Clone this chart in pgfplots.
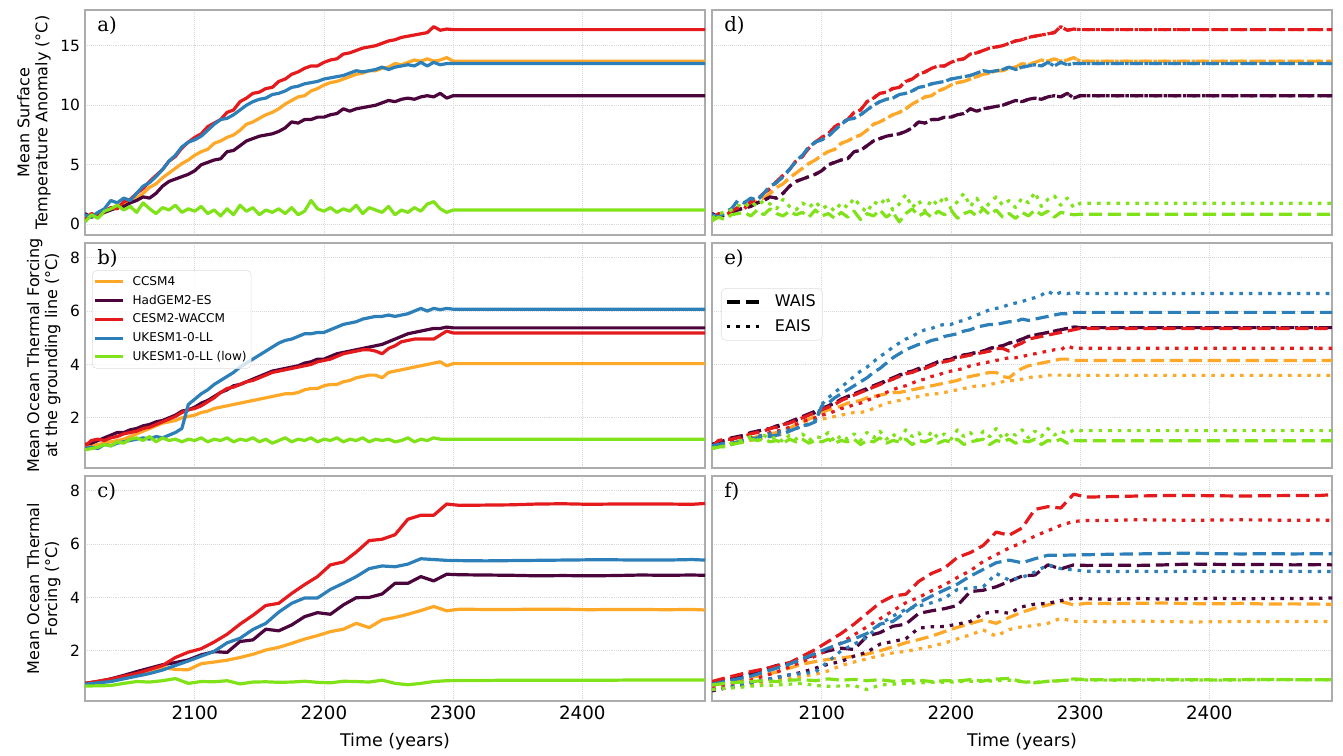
\documentclass[border=0pt]{standalone}
\usepackage{fontspec}
\setmainfont{DejaVu Sans}
\newfontfamily\panelfont{DejaVu Serif}
\usepackage{pgfplots}
\usepackage{pgfplotstable}
\pgfplotsset{compat=1.18}
\usepgfplotslibrary{groupplots}

\definecolor{ccsm}{RGB}{255,167,38}
\definecolor{had}{RGB}{75,5,60}
\definecolor{cesm}{RGB}{228,26,28}
\definecolor{ukesm}{RGB}{44,127,184}
\definecolor{low}{RGB}{128,226,24}

\tikzset{
  wdash/.style={dash pattern=on 3.3mm off 1.45mm},
  edot/.style={dash pattern=on 0.9mm off 1.5mm},
  panel/.style={anchor=north west, inner sep=0pt, xshift=3mm, yshift=-1.6mm,
    font=\panelfont\fontsize{14}{14}\selectfont},
}

% surface temperature anomaly (a, d)
\pgfplotstableread{
year ccsm had cesm uk low lowW lowE
2015 0.3 0.9 0.4 0.8 0.2 0.3 0.5
2020 0.8 0.6 0.9 0.6 0.8 0.6 0.9
2025 0.6 0.8 0.7 1.0 0.5 0.4 1.0
2030 1.0 1.0 1.1 1.3 1.1 0.8 1.2
2035 1.3 1.2 1.4 2.0 1.3 0.9 1.6
2040 1.5 1.4 1.3 1.8 1.6 1.0 1.4
2045 1.7 1.5 1.9 2.2 1.2 0.7 1.9
2050 2.0 1.8 2.1 2.0 1.5 1.2 1.5
2055 2.2 2.0 2.6 2.6 1.0 0.8 2.0
2060 2.6 2.3 3.0 3.2 1.8 1.3 1.7
2065 3.1 2.2 3.6 3.5 1.3 0.9 1.3
2070 3.4 2.6 4.1 4.0 0.9 0.7 2.1
2075 3.9 3.2 4.6 4.6 1.4 1.1 1.5
2080 4.3 3.6 5.3 5.3 1.2 0.8 1.2
2085 4.7 3.8 5.7 5.8 1.6 1.0 1.8
2090 5.1 4.0 6.4 6.5 1.0 0.6 1.4
2095 5.4 4.2 6.9 6.9 1.3 1.2 1.9
2100 5.8 4.5 7.3 7.1 1.1 0.7 1.3
2105 6.1 5.0 7.6 7.4 1.5 0.9 1.6
2110 6.3 5.2 8.2 7.9 0.9 0.5 1.1
2115 6.8 5.4 8.5 8.4 1.2 1.0 1.8
2120 7.0 5.5 8.8 8.8 0.7 0.6 1.4
2125 7.3 6.1 9.4 8.9 1.3 1.1 2.2
2130 7.5 6.2 9.6 9.2 0.8 0.4 1.5
2135 7.9 6.6 10.3 9.6 1.6 0.9 1.0
2140 8.4 7.0 10.6 10.0 1.1 0.7 1.9
2145 8.6 7.2 11.0 10.3 1.4 1.2 1.6
2150 8.9 7.4 11.1 10.5 0.8 0.6 2.3
2155 9.2 7.5 11.4 10.6 1.2 1.0 1.2
2160 9.4 7.6 11.5 10.9 1.0 0.2 1.7
2165 9.7 7.8 12.0 11.0 1.3 0.9 2.5
2170 10.1 8.1 12.2 11.2 0.9 1.3 1.4
2175 10.4 8.6 12.6 11.5 1.4 0.7 2.0
2180 10.7 8.5 12.8 11.6 0.8 1.0 1.1
2185 10.8 8.8 13.1 11.8 1.1 0.6 2.1
2190 11.2 8.8 13.3 11.9 2.0 1.1 1.6
2195 11.4 9.0 13.3 12.0 1.3 0.8 2.4
2200 11.7 9.0 13.6 12.2 1.1 1.2 1.3
2205 11.9 9.2 13.8 12.3 1.4 0.5 1.9
2210 12.0 9.3 13.9 12.4 1.0 0.9 2.6
2215 12.2 9.7 14.3 12.5 1.3 1.1 1.5
2220 12.4 9.5 14.4 12.7 1.1 0.7 2.2
2225 12.6 9.7 14.6 12.9 1.6 1.3 1.2
2230 12.7 9.8 14.8 12.8 0.9 0.8 1.8
2235 12.9 9.9 14.9 12.9 1.4 1.2 2.3
2240 12.9 10.0 15.0 13.0 1.2 0.6 1.6
2245 13.1 10.2 15.2 13.2 1.0 0.9 2.0
2250 13.2 10.4 15.4 13.0 1.5 0.5 1.4
2255 13.5 10.3 15.5 13.2 0.8 1.0 2.2
2260 13.4 10.5 15.7 13.3 1.2 0.7 1.8
2265 13.6 10.6 15.8 13.4 1.0 1.2 2.7
2270 13.8 10.5 15.9 13.3 1.4 0.8 1.5
2275 13.7 10.7 16.0 13.6 1.1 1.1 2.1
2280 13.9 10.8 16.1 13.3 1.7 0.6 2.4
2285 13.7 10.7 16.6 13.6 1.9 1.0 1.6
2290 13.8 11.0 16.3 13.4 1.3 0.9 2.2
2295 14.0 10.6 16.4 13.5 1.0 0.8 1.4
2300 13.7 10.8 16.35 13.5 1.2 0.84 1.77
2495 13.7 10.8 16.35 13.5 1.2 0.84 1.77
}\tabA

% thermal forcing at the grounding line (b)
\pgfplotstableread{
year ccsm had cesm uk low
2015 0.90 1.00 0.95 0.85 0.80
2020 0.95 1.05 1.15 0.90 0.85
2025 1.00 1.15 1.20 0.85 0.90
2030 1.05 1.25 1.15 1.00 1.00
2035 1.10 1.35 1.25 0.95 0.95
2040 1.15 1.45 1.30 1.05 1.10
2045 1.20 1.45 1.40 1.10 1.05
2050 1.30 1.55 1.45 1.15 1.20
2055 1.40 1.60 1.50 1.20 1.25
2060 1.50 1.70 1.60 1.25 1.15
2065 1.60 1.75 1.65 1.20 1.30
2070 1.70 1.85 1.75 1.30 1.10
2075 1.80 1.90 1.85 1.25 1.25
2080 1.85 2.00 1.95 1.35 1.15
2085 1.90 2.10 2.05 1.45 1.20
2090 2.00 2.25 2.20 1.60 1.10
2095 2.05 2.30 2.30 2.50 1.20
2100 2.10 2.40 2.35 2.70 1.15
2105 2.20 2.55 2.45 2.90 1.25
2110 2.25 2.65 2.60 3.05 1.10
2115 2.35 2.80 2.75 3.25 1.20
2120 2.40 2.95 2.95 3.40 1.15
2125 2.45 3.05 3.10 3.55 1.25
2130 2.50 3.20 3.15 3.70 1.10
2135 2.55 3.25 3.25 3.90 1.20
2140 2.60 3.35 3.35 4.05 1.15
2145 2.65 3.45 3.40 4.20 1.25
2150 2.70 3.55 3.50 4.35 1.10
2155 2.75 3.65 3.60 4.50 1.20
2160 2.80 3.75 3.70 4.65 1.05
2165 2.85 3.80 3.75 4.80 1.15
2170 2.90 3.85 3.80 4.90 1.25
2175 2.90 3.90 3.85 4.95 1.10
2180 2.95 3.95 3.90 5.05 1.20
2185 3.05 4.05 3.95 5.15 1.15
2190 3.10 4.10 4.00 5.15 1.25
2195 3.10 4.20 4.10 5.20 1.10
2200 3.20 4.20 4.15 5.20 1.20
2205 3.25 4.30 4.20 5.30 1.15
2210 3.25 4.40 4.30 5.40 1.25
2215 3.35 4.45 4.40 5.50 1.10
2220 3.40 4.50 4.45 5.55 1.20
2225 3.50 4.55 4.50 5.60 1.15
2230 3.55 4.60 4.55 5.70 1.25
2235 3.60 4.65 4.55 5.75 1.10
2240 3.60 4.70 4.50 5.80 1.20
2245 3.50 4.75 4.40 5.80 1.15
2250 3.70 4.85 4.60 5.85 1.20
2255 3.75 4.95 4.70 5.80 1.10
2260 3.80 5.05 4.85 5.85 1.15
2265 3.85 5.15 4.90 5.90 1.25
2270 3.90 5.20 4.95 6.00 1.10
2275 3.95 5.25 4.95 6.10 1.20
2280 4.00 5.30 4.95 6.00 1.15
2285 4.05 5.35 4.95 6.10 1.25
2290 4.10 5.35 5.10 6.05 1.20
2295 3.95 5.40 5.25 6.10 1.20
2300 4.03 5.37 5.18 6.07 1.20
2495 4.03 5.37 5.18 6.07 1.20
}\tabB

% thermal forcing at the grounding line, WAIS / EAIS (e)
\pgfplotstableread{
year ccsmW ccsmE hadW hadE cesmW cesmE ukW ukE lowW lowE
2015 0.90 0.85 1.00 0.95 0.90 0.90 0.95 0.90 0.85 0.85
2020 0.95 0.90 1.10 1.05 1.15 1.00 1.00 0.95 0.90 0.95
2025 1.00 0.95 1.15 1.10 1.20 1.05 1.05 1.00 0.95 0.90
2030 1.05 1.00 1.25 1.20 1.20 1.10 1.00 1.05 1.00 1.05
2035 1.10 1.05 1.30 1.25 1.25 1.15 1.10 1.10 1.05 1.10
2040 1.15 1.10 1.35 1.35 1.30 1.20 1.15 1.15 1.10 1.20
2045 1.20 1.15 1.45 1.40 1.40 1.25 1.20 1.20 1.20 1.30
2050 1.30 1.20 1.50 1.50 1.45 1.30 1.25 1.30 1.15 1.15
2055 1.35 1.25 1.55 1.55 1.50 1.35 1.30 1.35 1.20 1.35
2060 1.40 1.30 1.60 1.60 1.60 1.45 1.30 1.40 1.10 1.20
2065 1.45 1.35 1.70 1.65 1.65 1.50 1.35 1.45 1.15 1.30
2070 1.50 1.40 1.75 1.75 1.75 1.55 1.40 1.50 1.05 1.10
2075 1.60 1.50 1.85 1.80 1.80 1.65 1.50 1.55 1.20 1.35
2080 1.75 1.60 1.95 1.90 1.90 1.75 1.60 1.60 1.10 1.20
2085 1.85 1.70 2.05 2.00 2.00 1.85 1.70 1.70 1.20 1.40
2090 1.95 1.80 2.15 2.10 2.10 1.95 1.75 1.75 1.05 1.15
2095 2.05 1.90 2.25 2.20 2.20 2.00 1.85 1.90 1.15 1.30
2100 2.20 1.95 2.35 2.35 2.30 2.10 2.45 2.50 1.10 1.25
2105 2.30 2.00 2.45 2.45 2.40 2.15 2.55 2.75 1.20 1.45
2110 2.35 2.05 2.55 2.55 2.50 2.25 2.75 2.95 1.05 1.10
2115 2.45 2.10 2.70 2.65 2.65 2.35 2.90 3.15 1.15 1.35
2120 2.55 2.15 2.80 2.80 2.75 2.40 3.05 3.35 1.10 1.20
2125 2.60 2.20 2.90 2.85 2.85 2.50 3.20 3.55 1.20 1.40
2130 2.65 2.20 3.00 3.00 2.95 2.55 3.35 3.75 1.00 1.15
2135 2.75 2.25 3.10 3.05 3.05 2.65 3.50 3.90 1.15 1.45
2140 2.80 2.35 3.20 3.20 3.15 2.75 3.70 4.10 1.10 1.25
2145 2.85 2.45 3.30 3.25 3.25 2.85 3.85 4.30 1.25 1.50
2150 2.90 2.55 3.40 3.40 3.35 2.95 4.05 4.45 1.05 1.20
2155 2.95 2.60 3.50 3.45 3.45 3.05 4.25 4.65 1.15 1.40
2160 2.95 2.65 3.60 3.60 3.55 3.15 4.40 4.80 1.10 1.15
2165 3.00 2.70 3.70 3.65 3.65 3.20 4.55 4.95 1.20 1.55
2170 3.05 2.75 3.75 3.75 3.70 3.30 4.65 5.05 1.00 1.30
2175 3.10 2.80 3.85 3.80 3.80 3.40 4.75 5.20 1.15 1.45
2180 3.15 2.85 3.90 3.90 3.85 3.45 4.80 5.30 1.10 1.10
2185 3.20 2.90 4.00 3.95 3.95 3.55 4.90 5.35 1.20 1.50
2190 3.25 2.90 4.10 4.10 4.05 3.60 4.95 5.45 1.05 1.25
2195 3.30 2.95 4.15 4.15 4.10 3.70 5.05 5.50 1.15 1.40
2200 3.35 3.00 4.20 4.20 4.15 3.75 5.10 5.50 1.10 1.20
2205 3.40 3.05 4.30 4.30 4.25 3.80 5.15 5.60 1.20 1.55
2210 3.50 3.10 4.35 4.35 4.30 3.85 5.25 5.65 1.00 1.30
2215 3.55 3.15 4.40 4.40 4.35 3.95 5.30 5.75 1.10 1.45
2220 3.60 3.20 4.45 4.45 4.40 4.00 5.40 5.85 1.15 1.15
2225 3.65 3.20 4.50 4.50 4.45 4.05 5.45 5.95 1.20 1.50
2230 3.70 3.25 4.60 4.60 4.50 4.10 5.50 6.05 1.00 1.30
2235 3.70 3.30 4.65 4.65 4.60 4.15 5.50 6.10 1.15 1.60
2240 3.55 3.35 4.70 4.70 4.60 4.20 5.55 6.15 1.10 1.20
2245 3.50 3.40 4.80 4.80 4.50 4.25 5.60 6.25 1.20 1.45
2250 3.70 3.40 4.85 4.85 4.70 4.25 5.60 6.30 1.05 1.35
2255 3.85 3.45 4.95 4.95 4.80 4.30 5.70 6.35 1.15 1.55
2260 3.95 3.50 5.05 5.05 4.95 4.35 5.65 6.45 1.10 1.25
2265 4.00 3.55 5.10 5.10 5.00 4.40 5.70 6.50 1.20 1.50
2270 4.05 3.55 5.15 5.15 5.05 4.45 5.75 6.60 1.00 1.30
2275 4.10 3.60 5.20 5.20 5.10 4.50 5.80 6.75 1.15 1.60
2280 4.15 3.60 5.25 5.25 5.15 4.55 5.85 6.60 1.10 1.35
2285 4.20 3.60 5.30 5.30 5.20 4.55 5.90 6.70 1.20 1.50
2290 4.20 3.60 5.35 5.35 5.25 4.70 5.90 6.65 1.05 1.40
2295 4.15 3.59 5.40 5.40 5.30 4.60 5.95 6.70 1.15 1.55
2300 4.15 3.59 5.38 5.38 5.35 4.61 5.95 6.66 1.14 1.52
2495 4.15 3.59 5.38 5.38 5.35 4.61 5.95 6.66 1.14 1.52
}\tabE

% mean ocean thermal forcing (c)
\pgfplotstableread{
year ccsm had cesm uk low
2015 0.75 0.78 0.78 0.75 0.68
2025 0.82 0.85 0.86 0.80 0.69
2035 0.92 0.95 0.94 0.85 0.70
2045 1.05 1.08 1.05 0.95 0.78
2055 1.15 1.22 1.15 1.05 0.85
2065 1.25 1.35 1.30 1.15 0.83
2075 1.38 1.48 1.45 1.28 0.88
2085 1.30 1.56 1.75 1.45 0.96
2095 1.29 1.66 1.95 1.62 0.78
2105 1.52 1.85 2.08 1.80 0.85
2115 1.58 1.97 2.33 1.98 0.84
2125 1.65 1.94 2.62 2.30 0.88
2135 1.75 2.35 3.00 2.47 0.76
2145 1.87 2.41 3.33 2.80 0.83
2155 2.03 2.81 3.70 3.03 0.84
2165 2.13 2.75 3.78 3.45 0.82
2175 2.28 2.97 4.15 3.78 0.83
2185 2.44 3.28 4.48 3.98 0.86
2195 2.57 3.43 4.78 3.98 0.82
2205 2.72 3.37 5.22 4.30 0.80
2215 2.81 3.72 5.33 4.53 0.86
2225 3.03 3.99 5.70 4.78 0.85
2235 2.87 4.00 6.13 5.08 0.83
2245 3.16 4.13 6.18 5.18 0.90
2255 3.25 4.53 6.35 5.15 0.78
2265 3.37 4.53 6.93 5.25 0.73
2275 3.51 4.78 7.08 5.45 0.78
2285 3.66 4.62 7.08 5.42 0.85
2295 3.50 4.87 7.50 5.39 0.88
2305 3.56 4.85 7.45 5.38 0.89
2325 3.55 4.84 7.46 5.37 0.89
2345 3.55 4.83 7.47 5.38 0.90
2365 3.56 4.81 7.50 5.39 0.90
2385 3.56 4.82 7.51 5.40 0.90
2405 3.54 4.81 7.49 5.41 0.90
2425 3.55 4.82 7.50 5.41 0.90
2445 3.55 4.84 7.50 5.40 0.91
2465 3.54 4.83 7.50 5.40 0.91
2485 3.55 4.84 7.49 5.42 0.91
2495 3.53 4.83 7.52 5.40 0.91
}\tabC

% mean ocean thermal forcing, WAIS / EAIS (f)
\pgfplotstableread{
year ccsmW ccsmE hadW hadE cesmW cesmE ukW ukE lowW lowE
2015 0.70 0.55 0.75 0.50 0.85 0.60 0.75 0.55 0.72 0.55
2025 0.80 0.60 0.90 0.60 0.98 0.70 0.85 0.60 0.78 0.60
2035 0.90 0.65 1.00 0.70 1.10 0.80 0.95 0.70 0.82 0.62
2045 1.00 0.75 1.15 0.80 1.22 0.90 1.05 0.80 0.85 0.68
2055 1.10 0.80 1.30 0.90 1.32 1.05 1.20 0.90 0.88 0.70
2065 1.20 0.90 1.45 1.00 1.43 1.20 1.35 1.00 0.85 0.72
2075 1.35 0.95 1.55 1.10 1.55 1.40 1.50 1.10 0.90 0.75
2085 1.50 1.05 1.70 1.20 1.80 1.60 1.70 1.15 0.92 0.78
2095 1.60 1.12 1.85 1.35 2.05 1.80 1.90 1.20 0.88 0.70
2105 1.68 1.25 2.00 1.50 2.35 2.05 2.10 1.60 0.95 0.67
2115 1.73 1.45 2.10 1.60 2.65 2.30 2.28 2.00 0.90 0.68
2125 1.80 1.58 2.05 1.80 3.00 2.60 2.45 2.25 0.93 0.70
2135 1.88 1.70 2.55 1.95 3.40 2.90 2.65 2.50 0.88 0.55
2145 2.00 1.82 2.68 2.25 3.80 3.20 3.00 3.00 0.92 0.72
2155 2.15 1.92 2.92 2.35 4.05 3.50 3.10 3.30 0.86 0.75
2165 2.30 1.98 3.00 2.45 4.12 3.80 3.45 3.55 0.88 0.78
2175 2.42 2.07 3.40 2.85 4.60 4.00 3.80 3.68 0.90 0.80
2185 2.55 2.17 3.50 2.90 4.90 4.25 4.05 3.80 0.85 0.82
2195 2.72 2.29 3.58 2.91 5.10 4.47 4.28 3.97 0.88 0.82
2205 2.88 2.45 3.70 3.00 5.50 4.75 4.50 4.30 0.87 0.84
2215 3.02 2.60 4.22 3.10 5.68 5.00 4.80 4.35 0.92 0.86
2225 3.16 2.78 4.27 3.40 5.95 5.35 5.05 4.40 0.87 0.86
2235 3.03 2.55 4.40 3.47 6.45 5.60 5.30 4.90 0.94 0.88
2245 3.25 2.80 4.60 3.41 6.33 5.85 5.40 4.65 0.97 0.90
2255 3.45 2.90 4.80 3.65 6.60 6.05 5.30 4.75 0.84 0.85
2265 3.60 2.95 4.84 3.75 7.30 6.30 5.45 4.95 0.80 0.82
2275 3.72 3.03 5.22 3.78 7.40 6.50 5.58 5.22 0.86 0.86
2285 3.85 3.22 5.07 3.88 7.35 6.70 5.58 5.08 0.88 0.88
2295 3.72 3.10 5.22 3.97 7.87 6.85 5.59 5.03 0.95 0.92
2305 3.78 3.10 5.20 3.95 7.76 6.88 5.60 4.98 0.92 0.91
2325 3.77 3.09 5.21 3.93 7.78 6.89 5.62 4.97 0.91 0.90
2345 3.78 3.11 5.20 3.96 7.80 6.91 5.63 4.98 0.92 0.91
2365 3.79 3.10 5.22 3.94 7.82 6.90 5.65 4.97 0.93 0.91
2385 3.77 3.08 5.25 3.95 7.82 6.89 5.66 4.98 0.92 0.91
2405 3.76 3.09 5.24 3.97 7.81 6.90 5.64 4.98 0.91 0.90
2425 3.78 3.10 5.23 3.95 7.80 6.91 5.63 4.97 0.92 0.91
2445 3.75 3.09 5.24 3.96 7.81 6.90 5.64 4.97 0.93 0.92
2465 3.76 3.10 5.22 3.96 7.82 6.89 5.63 4.98 0.92 0.92
2485 3.75 3.10 5.23 3.97 7.82 6.90 5.64 4.97 0.92 0.92
2495 3.74 3.10 5.22 3.98 7.85 6.89 5.64 4.97 0.92 0.92
}\tabF

\begin{document}
\begin{tikzpicture}
\begin{groupplot}[
    group style={group name=G, group size=2 by 3,
      horizontal sep=1.75mm, vertical sep=2mm,
      xticklabels at=edge bottom, yticklabels at=edge left},
    scale only axis, width=155mm, height=56.25mm,
    xmin=2015, xmax=2495,
    xtick={2100,2200,2300,2400},
    grid=major,
    grid style={gray!30, densely dotted, line width=0.5pt},
    axis line style={gray!65, line width=0.35mm},
    major tick length=0pt,
    /pgf/number format/assume math mode=true,
    /pgf/number format/1000 sep={},
    xticklabel style={font=\fontsize{13}{13}\selectfont},
    yticklabel style={font=\fontsize{11}{11}\selectfont},
    ylabel style={align=center, font=\fontsize{11.4}{12.8}\selectfont},
    xlabel style={font=\fontsize{12.4}{14}\selectfont, yshift=-1mm},
    every axis plot/.append style={line width=0.8mm, line join=round},
    no markers,
  ]

% a)
\nextgroupplot[ymin=-0.9, ymax=18, ytick={0,5,10,15},
  ylabel={Mean Surface\\Temperature Anomaly (°C)}]
\addplot[ccsm] table[x=year, y=ccsm]{\tabA};
\addplot[had] table[x=year, y=had]{\tabA};
\addplot[cesm] table[x=year, y=cesm]{\tabA};
\addplot[ukesm] table[x=year, y=uk]{\tabA};
\addplot[low] table[x=year, y=low]{\tabA};
\node[panel] at (rel axis cs:0,1) {a)};

% d)
\nextgroupplot[ymin=-0.9, ymax=18, ytick={0,5,10,15}]
\addplot[ccsm, wdash] table[x=year, y=ccsm]{\tabA};
\addplot[ccsm, edot] table[x=year, y=ccsm]{\tabA};
\addplot[had, wdash] table[x=year, y=had]{\tabA};
\addplot[had, edot] table[x=year, y=had]{\tabA};
\addplot[cesm, wdash] table[x=year, y=cesm]{\tabA};
\addplot[cesm, edot] table[x=year, y=cesm]{\tabA};
\addplot[ukesm, wdash] table[x=year, y=uk]{\tabA};
\addplot[ukesm, edot] table[x=year, y=uk]{\tabA};
\addplot[low, wdash] table[x=year, y=lowW]{\tabA};
\addplot[low, edot] table[x=year, y=lowE]{\tabA};
\node[panel] at (rel axis cs:0,1) {d)};

% b)
\nextgroupplot[ymin=0.12, ymax=8.55, ytick={2,4,6,8},
  ylabel={Mean Ocean Thermal Forcing\\at the grounding line (°C)},
  legend style={at={(0.0113,0.88)}, anchor=north west,
    font=\fontsize{8.6}{10}\selectfont, draw=gray!25, rounded corners=1.2mm,
    fill=white, fill opacity=0.8, text opacity=1,
    inner xsep=0.4mm, inner ysep=0.8mm, row sep=0.5mm},
  legend cell align=left,
  legend image code/.code={\draw[#1, line width=0.75mm] (0mm,0mm) -- (7mm,0mm);
    \path (8.2mm,0mm);}]
\addplot[ccsm] table[x=year, y=ccsm]{\tabB};
\addplot[had] table[x=year, y=had]{\tabB};
\addplot[cesm] table[x=year, y=cesm]{\tabB};
\addplot[ukesm] table[x=year, y=uk]{\tabB};
\addplot[low] table[x=year, y=low]{\tabB};
\legend{CCSM4, HadGEM2-ES, CESM2-WACCM, UKESM1-0-LL, UKESM1-0-LL (low)}
\node[panel] at (rel axis cs:0,1) {b)};

% e)
\nextgroupplot[ymin=0.12, ymax=8.55, ytick={2,4,6,8},
  legend style={at={(0.0145,0.8)}, anchor=north west,
    font=\fontsize{11.4}{13}\selectfont, draw=gray!25, rounded corners=1.2mm,
    fill=white, fill opacity=0.8, text opacity=1,
    inner xsep=1mm, inner ysep=1mm, row sep=1.2mm},
  legend cell align=left,
  legend image code/.code={\draw[#1, line width=0.8mm] (0mm,0mm) -- (8mm,0mm);
    \path (10.9mm,0mm);}]
\addlegendimage{black, wdash}
\addlegendentry{WAIS}
\addlegendimage{black, edot}
\addlegendentry{EAIS}
\addplot[ccsm, wdash, forget plot] table[x=year, y=ccsmW]{\tabE};
\addplot[ccsm, edot, forget plot] table[x=year, y=ccsmE]{\tabE};
\addplot[had, wdash, forget plot] table[x=year, y=hadW]{\tabE};
\addplot[had, edot, forget plot] table[x=year, y=hadE]{\tabE};
\addplot[cesm, wdash, forget plot] table[x=year, y=cesmW]{\tabE};
\addplot[cesm, edot, forget plot] table[x=year, y=cesmE]{\tabE};
\addplot[ukesm, wdash, forget plot] table[x=year, y=ukW]{\tabE};
\addplot[ukesm, edot, forget plot] table[x=year, y=ukE]{\tabE};
\addplot[low, wdash, forget plot] table[x=year, y=lowW]{\tabE};
\addplot[low, edot, forget plot] table[x=year, y=lowE]{\tabE};
\node[panel] at (rel axis cs:0,1) {e)};

% c)
\nextgroupplot[ymin=0.12, ymax=8.55, ytick={2,4,6,8},
  ylabel={Mean Ocean Thermal\\Forcing (°C)}, xlabel={Time (years)}]
\addplot[ccsm] table[x=year, y=ccsm]{\tabC};
\addplot[had] table[x=year, y=had]{\tabC};
\addplot[cesm] table[x=year, y=cesm]{\tabC};
\addplot[ukesm] table[x=year, y=uk]{\tabC};
\addplot[low] table[x=year, y=low]{\tabC};
\node[panel] at (rel axis cs:0,1) {c)};

% f)
\nextgroupplot[ymin=0.12, ymax=8.55, ytick={2,4,6,8}, xlabel={Time (years)}]
\addplot[ccsm, wdash] table[x=year, y=ccsmW]{\tabF};
\addplot[ccsm, edot] table[x=year, y=ccsmE]{\tabF};
\addplot[had, wdash] table[x=year, y=hadW]{\tabF};
\addplot[had, edot] table[x=year, y=hadE]{\tabF};
\addplot[cesm, wdash] table[x=year, y=cesmW]{\tabF};
\addplot[cesm, edot] table[x=year, y=cesmE]{\tabF};
\addplot[ukesm, wdash] table[x=year, y=ukW]{\tabF};
\addplot[ukesm, edot] table[x=year, y=ukE]{\tabF};
\addplot[low, wdash] table[x=year, y=lowW]{\tabF};
\addplot[low, edot] table[x=year, y=lowE]{\tabF};
\node[panel] at (rel axis cs:0,1) {f)};
\end{groupplot}
\path (G c1r1.north west) ++(-21.25mm,2.5mm) coordinate (bbA);
\path (G c2r3.south east) ++(2.75mm,-13.75mm) coordinate (bbB);
\pgfresetboundingbox
\path[use as bounding box] (bbA) rectangle (bbB);
\end{tikzpicture}
\end{document}
